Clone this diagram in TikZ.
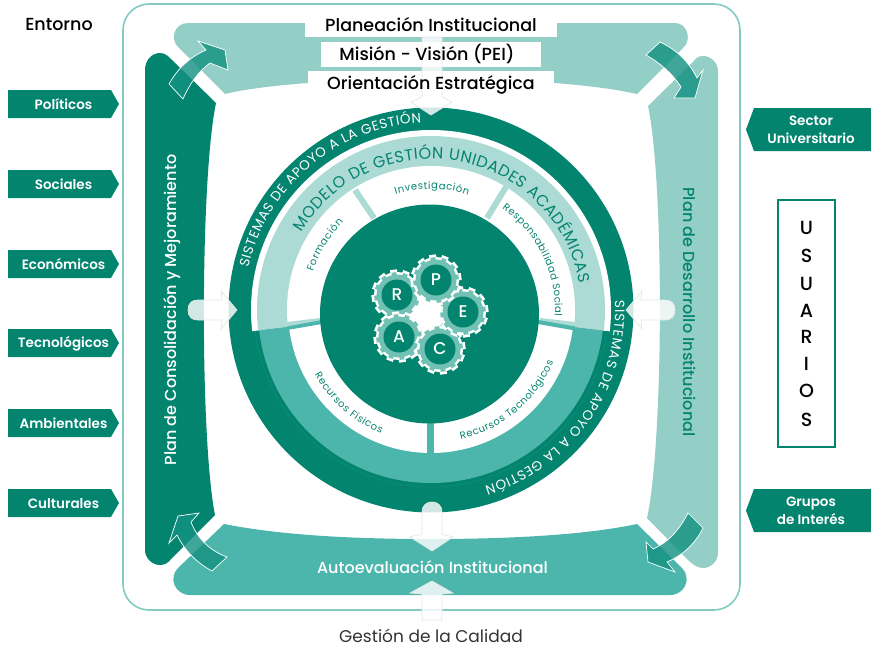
\documentclass[tikz,border=0pt]{standalone}
\usepackage{fontspec}
\setmainfont{Poppins Medium}[BoldFont=Poppins SemiBold]
\newfontfamily\thinfont{Poppins}
\usetikzlibrary{decorations.text}
\definecolor{tealdark}{HTML}{03846F}
\definecolor{tealmid}{HTML}{4DB6AC}
\definecolor{teallight}{HTML}{93CFC7}
\definecolor{tealring}{HTML}{ACDAD5}
\definecolor{tealgear}{HTML}{72C1B5}
\definecolor{tealarrow}{HTML}{159282}
\definecolor{softline}{HTML}{E1E8E6}
\tikzset{
  gearwheel/.pic={
    \foreach \a in {0,30,...,330} {
      \fill[white,rotate=\a+8] (-3.5,17) rectangle (3.5,25.5);
    }
    \fill[white] (0,0) circle[radius=23pt];
    \foreach \a in {0,30,...,330} {
      \fill[tealgear,rotate=\a+8] (-2.4,17) rectangle (2.4,22.8);
    }
    \fill[tealgear] (0,0) circle[radius=20.5pt];
    \node[circle,fill=tealdark,text=white,minimum size=31pt,inner sep=0pt,font=\fontsize{17}{17}\selectfont] (-letter) at (0,0) {#1};
  },
  curvedarrow/.style={fill=tealarrow,fill opacity=.82,draw=white,line width=.7pt,line join=miter},
  softarrow/.style={fill=white,fill opacity=.82,draw=softline,line width=.7pt},
  arctext/.style n args={3}{decorate,decoration={text along path,text align=fit to path,text={|\fontsize{#1}{#1}\thinfont\color{#2}|#3}}}
}
\begin{document}
\begin{tikzpicture}[x=1pt,y=-1pt]
\tikzstyle{tagtext}=[text=white,font=\fontsize{13.5}{18.5}\selectfont\bfseries,align=center,inner sep=0pt]
\tikzstyle{bigtext}=[text=black,font=\fontsize{17.5}{18}\selectfont,inner sep=0pt]
\tikzstyle{bandtext}=[font=\fontsize{16}{16}\selectfont,inner sep=0pt]
\useasboundingbox (0,0) rectangle (871,648);
% frame
\draw[teallight!80!tealmid,line width=1.6pt,rounded corners=26pt] (123,4) rectangle (740,610);
\node[bigtext] (entorno) at (59,24) {Entorno};
% left tags
\foreach \y/\name in {90/Políticos,170/Sociales,250/Económicos,329/Tecnológicos,409/Ambientales,489/Culturales} {
  \fill[tealdark] (8,\y) -- (111,\y) -- (119,\y+14) -- (111,\y+28) -- (8,\y+28) -- cycle;
  \node[tagtext] (tag\y) at (63.5,\y+14.5) {\name};
}
% right tags
\foreach \y/\name in {108/{Sector\\Universitario},489/{Grupos\\de Interés}} {
  \fill[tealdark] (871,\y) -- (754,\y) -- (746,\y+21.5) -- (754,\y+43) -- (871,\y+43) -- cycle;
  \node[tagtext] (tag\y) at (811,\y+22) {\name};
}
% usuarios
\draw[tealdark,line width=1.6pt] (778,200) rectangle (835,447);
\foreach \y/\letra in {228/U,256/S,284/U,311/A,337/R,364/I,391/O,420/S} {
  \node[font=\fontsize{19}{19}\selectfont,inner sep=0pt] (usr\y) at (806.5,\y) {\letra};
}
% bands
\fill[teallight] (188,23) -- (675,23) .. controls (688,23) and (692,41) .. (683,48) -- (637,94) .. controls (610,88) and (580,85) .. (554,83) -- (308,83) .. controls (282,85) and (250,88) .. (225,94) -- (178,47) .. controls (170,39) and (174,23) .. (188,23) -- cycle;
\fill[teallight] (648,106) .. controls (664,180) and (664,440) .. (647,518) -- (688,560) .. controls (693,565) and (698,568) .. (703,568) .. controls (711,568) and (718,561) .. (718,553) -- (718,71) .. controls (718,63) and (711,56) .. (703,56) .. controls (698,56) and (695,59) .. (693,62) -- cycle;
\fill[tealmid] (224,524) .. controls (280,535) and (350,539) .. (431,539) .. controls (510,539) and (585,535) .. (637,524) -- (682,568) .. controls (692,578) and (685,595) .. (670,595) -- (190,595) .. controls (175,595) and (168,578) .. (178,568) -- cycle;
\fill[tealdark] (145,70) .. controls (145,60) and (152,53) .. (160,53) .. controls (165,53) and (168,56) .. (171,59) -- (216,103) .. controls (200,180) and (200,440) .. (215,515) -- (172,558) .. controls (168,563) and (165,565) .. (160,565) .. controls (152,565) and (145,558) .. (145,550) -- cycle;
% boxes on the top band
\fill[white] (305,8) rectangle (557,37);
\fill[white] (321,42) rectangle (541,67);
\fill[white] (308,71) rectangle (554,100);
% circles
\fill[tealdark] (431,310) circle[radius=202.5pt];
\begin{scope}
\clip (220,100) -- (640,100) -- (640,335) -- (431,310) -- (220,335) -- cycle;
\fill[white] (431,310) circle[radius=180pt];
\fill[tealring] (431,310) circle[radius=174pt];
\fill[white] (431,310) circle[radius=144pt];
\end{scope}
\begin{scope}
\clip (220,335) -- (431,310) -- (640,335) -- (640,520) -- (220,520) -- cycle;
\draw[tealmid!25!tealdark,line width=.4pt] (431,310) circle[radius=177pt];
\fill[tealmid] (431,310) circle[radius=173pt];
\fill[white] (431,310) circle[radius=143pt];
\end{scope}
% separators
\draw[tealring,line width=6pt] (355,190) -- (374,218);
\draw[tealring,line width=6pt] (506,187) -- (487,218);
\fill[tealring] (320,318) -- (287,322) -- (287,329) -- (320,323) -- cycle;
\fill[tealring] (540,318) -- (575,322) -- (575,329) -- (540,323) -- cycle;
\fill[tealmid] (322,320) -- (287,326.5) -- (287,330) -- (322,324) -- cycle;
\fill[tealmid] (538,320) -- (575,326.5) -- (575,330.5) -- (538,324) -- cycle;
\fill[tealmid] (427,415) rectangle (434,456);
\fill[tealdark] (429.5,314) circle[radius=109.5pt];
% gears
\fill[white] (427,312) circle[radius=19pt];
\pic (gearR) at (397,295) {gearwheel=R};
\pic (gearA) at (399,337) {gearwheel=A};
\pic (gearC) at (440,349) {gearwheel=C};
\pic (gearE) at (463,312) {gearwheel=E};
\pic (gearP) at (436,280) {gearwheel=P};
% ring texts
\path[arctext={13.5}{white}{SISTEMAS DE APOYO A LA GESTIÓN}] ([shift={(167:187.5pt)}]431,310) arc[start angle=167,end angle=93,radius=187.5pt];
\path[arctext={13.5}{white}{SISTEMAS DE APOYO A LA GESTIÓN}] ([shift={(3:184pt)}]431,310) arc[start angle=3,end angle=-73,radius=184pt];
\path[arctext={16}{tealdark}{MODELO DE GESTIÓN UNIDADES ACADÉMICAS}] ([shift={(149:151pt)}]431,310) arc[start angle=149,end angle=10,radius=151pt];
\path[arctext={10}{tealdark}{Formación}] ([shift={(162:124pt)}]431,310) arc[start angle=162,end angle=135,radius=124pt];
\path[arctext={10}{tealdark}{Investigación}] ([shift={(107:121pt)}]431,310) arc[start angle=107,end angle=72,radius=121pt];
\path[arctext={10}{tealdark}{Responsabilidad Social}] ([shift={(55:124pt)}]431,310) arc[start angle=55,end angle=-3,radius=124pt];
\path[arctext={10}{tealdark}{Recursos Físicos}] ([shift={(209:133pt)}]431,310) arc[start angle=209,end angle=248,radius=133pt];
\path[arctext={10}{tealdark}{Recursos Tecnológicos}] ([shift={(283:133pt)}]431,310) arc[start angle=283,end angle=337,radius=133pt];
% soft arrows
\path[softarrow] (422,37) -- (442,37) -- (442,97) -- (452,102) -- (431,115) -- (411,102) -- (422,97) -- cycle;
\path[softarrow] (188,310) .. controls (188,303) and (192,300) .. (198,300) -- (222,300) -- (221,291) -- (237,310) -- (221,329) -- (222,320) -- (198,320) .. controls (192,320) and (188,317) .. (188,310) -- cycle;
\path[softarrow] (675,310) .. controls (675,303) and (671,300) .. (665,300) -- (641,300) -- (642,291) -- (626,310) -- (642,329) -- (641,320) -- (665,320) .. controls (671,320) and (675,317) .. (675,310) -- cycle;
\path[softarrow] (422,512) .. controls (422,506) and (426,502) .. (432,502) .. controls (438,502) and (442,506) .. (442,512) -- (442,534) -- (453,537) -- (432,551) -- (410,537) -- (422,534) -- cycle;
\path[softarrow] (422,620) -- (442,620) -- (442,594) -- (453,593) -- (432,581) -- (410,593) -- (422,594) -- cycle;
% corner arrows
\path[curvedarrow] (169,84) .. controls (178,68) and (190,57) .. (206,50) -- (198,41) -- (225,50) -- (228,70) -- (210,63) .. controls (199,71) and (190,83) .. (183,99) -- cycle;
\path[curvedarrow] (646,55) -- (660,42) .. controls (677,50) and (689,62) .. (697,78) -- (703,70) -- (695,98) -- (674,98) -- (681,87) .. controls (672,73) and (660,63) .. (646,55) -- cycle;
\path[curvedarrow] (688,513) -- (703,528) .. controls (695,544) and (683,555) .. (667,562) -- (675,572) -- (648,562) -- (646,542) -- (653,549) .. controls (667,543) and (679,531) .. (688,513) -- cycle;
\path[curvedarrow] (227,557) -- (212,571) .. controls (197,563) and (185,551) .. (177,535) -- (169,543) -- (178,516) -- (199,513) -- (191,522) .. controls (197,538) and (210,551) .. (227,557) -- cycle;
% band texts
\node[bigtext] (planeacion) at (431,25) {Planeación Institucional};
\node[bigtext] (mision) at (427,54) {Misión - Visión (PEI)};
\node[bigtext] (orientacion) at (431,85) {Orientación Estratégica};
\node[bandtext,text=white] (autoeval) at (432.5,567) {Autoevaluación Institucional};
\node[bandtext,text=white,rotate=90] (consolidacion) at (172,310) {Plan de Consolidación y Mejoramiento};
\node[bandtext,text=tealdark,rotate=-90] (desarrollo) at (690,312) {Plan de Desarrollo Institucional};
\node[bigtext,text=black!80,font=\fontsize{17}{18}\thinfont] (calidad) at (431,636) {Gestión de la Calidad};
\end{tikzpicture}
\end{document}
